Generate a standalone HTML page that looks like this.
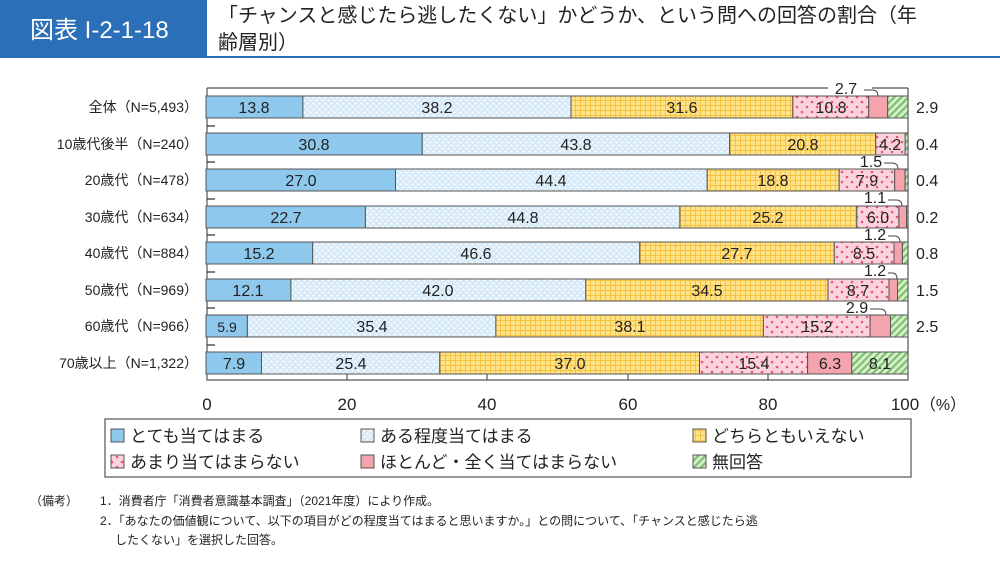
<!DOCTYPE html>
<html><head><meta charset="utf-8"><style>
body{margin:0;background:#fff;width:1000px;height:561px;overflow:hidden;font-family:"Liberation Sans","Noto Sans CJK JP",sans-serif;}
</style></head><body>
<svg width="1000" height="561" xmlns="http://www.w3.org/2000/svg" font-family="'Liberation Sans','Noto Sans CJK JP',sans-serif">
<defs>
<pattern id="pb" width="6" height="6" patternUnits="userSpaceOnUse"><rect width="6" height="6" fill="#d6eaf8"/><circle cx="1.5" cy="1.5" r="1.1" fill="#fff"/><circle cx="4.5" cy="4.5" r="1.1" fill="#fff"/></pattern>
<pattern id="py" width="5" height="5" patternUnits="userSpaceOnUse"><rect width="5" height="5" fill="#ffe38a"/><path d="M0 0.5H5M0.5 0V5" stroke="#f5c242" stroke-width="1"/></pattern>
<pattern id="pp" width="10" height="10" patternUnits="userSpaceOnUse"><rect width="10" height="10" fill="#fbd3dc"/><circle cx="2" cy="2" r="1.3" fill="#e8557a"/><circle cx="7" cy="7" r="1.3" fill="#e8557a"/></pattern>
<pattern id="pg" width="5" height="5" patternUnits="userSpaceOnUse" patternTransform="rotate(45)"><rect width="5" height="5" fill="#d9efcf"/><rect width="2.2" height="5" fill="#7cc06b"/></pattern>
</defs>
<rect x="0" y="0" width="207" height="56" fill="#2a6fb7"/>
<rect x="0" y="56" width="1000" height="2" fill="#2a6fb7"/>
<text x="30" y="38" font-size="24" fill="#fff">図表 I-2-1-18</text>
<text x="218" y="22" font-size="20" fill="#222">「チャンスと感じたら逃したくない」かどうか、という問への回答の割合（年</text>
<text x="218" y="49" font-size="20" fill="#222">齢層別）</text>

<g stroke="#555" stroke-width="1.2" fill="none">
<path d="M207 88V380H908V88"/>
<path d="M207 88H828M872 88H908"/>
<path d="M347 380v-6M487 380v-6M628 380v-6M768 380v-6"/>
<path d="M207 126h8M207 162h8M207 199h8M207 235h8M207 272h8M207 308h8M207 345h8" stroke="#333"/>
</g>

<g stroke="#555" stroke-width="1">
<rect x="206" y="96" width="96.9" height="22" fill="#8ec8ec"/><rect x="302.9" y="96" width="268.1" height="22" fill="url(#pb)"/><rect x="571" y="96" width="221.8" height="22" fill="url(#py)"/><rect x="792.9" y="96" width="75.8" height="22" fill="url(#pp)"/><rect x="868.7" y="96" width="19" height="22" fill="#f4a4ad"/><rect x="887.7" y="96" width="20.3" height="22" fill="url(#pg)"/>
<rect x="206" y="133" width="216.2" height="22" fill="#8ec8ec"/><rect x="422.2" y="133" width="307.5" height="22" fill="url(#pb)"/><rect x="729.7" y="133" width="146" height="22" fill="url(#py)"/><rect x="875.7" y="133" width="29.5" height="22" fill="url(#pp)"/><rect x="905.2" y="133" width="2.8" height="22" fill="url(#pg)"/>
<rect x="206" y="169" width="189.5" height="22" fill="#8ec8ec"/><rect x="395.5" y="169" width="311.7" height="22" fill="url(#pb)"/><rect x="707.2" y="169" width="132" height="22" fill="url(#py)"/><rect x="839.2" y="169" width="55.5" height="22" fill="url(#pp)"/><rect x="894.7" y="169" width="10.5" height="22" fill="#f4a4ad"/><rect x="905.2" y="169" width="2.8" height="22" fill="url(#pg)"/>
<rect x="206" y="206" width="159.4" height="22" fill="#8ec8ec"/><rect x="365.4" y="206" width="314.5" height="22" fill="url(#pb)"/><rect x="679.9" y="206" width="176.9" height="22" fill="url(#py)"/><rect x="856.8" y="206" width="42.1" height="22" fill="url(#pp)"/><rect x="898.9" y="206" width="7.7" height="22" fill="#f4a4ad"/><rect x="906.6" y="206" width="1.4" height="22" fill="url(#pg)"/>
<rect x="206" y="242" width="106.7" height="22" fill="#8ec8ec"/><rect x="312.7" y="242" width="327.1" height="22" fill="url(#pb)"/><rect x="639.8" y="242" width="194.5" height="22" fill="url(#py)"/><rect x="834.3" y="242" width="59.7" height="22" fill="url(#pp)"/><rect x="894" y="242" width="8.4" height="22" fill="#f4a4ad"/><rect x="902.4" y="242" width="5.6" height="22" fill="url(#pg)"/>
<rect x="206" y="279" width="84.9" height="22" fill="#8ec8ec"/><rect x="290.9" y="279" width="294.9" height="22" fill="url(#pb)"/><rect x="585.8" y="279" width="242.2" height="22" fill="url(#py)"/><rect x="828" y="279" width="61" height="22" fill="url(#pp)"/><rect x="889" y="279" width="8.5" height="22" fill="#f4a4ad"/><rect x="897.5" y="279" width="10.5" height="22" fill="url(#pg)"/>
<rect x="206" y="315" width="41.4" height="22" fill="#8ec8ec"/><rect x="247.4" y="315" width="248.5" height="22" fill="url(#pb)"/><rect x="495.9" y="315" width="267.5" height="22" fill="url(#py)"/><rect x="763.4" y="315" width="106.7" height="22" fill="url(#pp)"/><rect x="870.1" y="315" width="20.4" height="22" fill="#f4a4ad"/><rect x="890.5" y="315" width="17.5" height="22" fill="url(#pg)"/>
<rect x="206" y="352" width="55.5" height="22" fill="#8ec8ec"/><rect x="261.5" y="352" width="178.3" height="22" fill="url(#pb)"/><rect x="439.8" y="352" width="259.7" height="22" fill="url(#py)"/><rect x="699.5" y="352" width="108.1" height="22" fill="url(#pp)"/><rect x="807.6" y="352" width="44.2" height="22" fill="#f4a4ad"/><rect x="851.8" y="352" width="56.2" height="22" fill="url(#pg)"/>
</g>

<g font-family="'Liberation Sans Narrow','Liberation Sans',sans-serif" font-size="16" fill="#222" text-anchor="middle">
<text x="254" y="113">13.8</text><text x="437" y="113">38.2</text><text x="682" y="113">31.6</text><text x="831" y="113">10.8</text>
<text x="314" y="150">30.8</text><text x="576" y="150">43.8</text><text x="803" y="150">20.8</text><text x="890" y="150">4.2</text>
<text x="301" y="186">27.0</text><text x="551" y="186">44.4</text><text x="773" y="186">18.8</text><text x="867" y="186">7.9</text>
<text x="286" y="223">22.7</text><text x="523" y="223">44.8</text><text x="768" y="223">25.2</text><text x="878" y="223">6.0</text>
<text x="259" y="259">15.2</text><text x="476" y="259">46.6</text><text x="737" y="259">27.7</text><text x="864" y="259">8.5</text>
<text x="248" y="296">12.1</text><text x="438" y="296">42.0</text><text x="707" y="296">34.5</text><text x="858" y="296">8.7</text>
<text x="227" y="332" font-size="14">5.9</text><text x="372" y="332">35.4</text><text x="630" y="332">38.1</text><text x="817" y="332">15.2</text>
<text x="234" y="369">7.9</text><text x="351" y="369">25.4</text><text x="570" y="369">37.0</text><text x="754" y="369">15.4</text><text x="830" y="369">6.3</text><text x="880" y="369">8.1</text>
<text x="846" y="94">2.7</text><text x="871" y="167">1.5</text><text x="875" y="203">1.1</text><text x="875" y="240">1.2</text><text x="875" y="276">1.2</text><text x="857" y="313">2.9</text>
<g text-anchor="start"><text x="916" y="113">2.9</text><text x="916" y="150">0.4</text><text x="916" y="186">0.4</text><text x="916" y="223">0.2</text><text x="916" y="259">0.8</text><text x="916" y="296">1.5</text><text x="916" y="332">2.5</text></g>
<g font-size="17"><text x="207" y="410">0</text><text x="347" y="410">20</text><text x="487" y="410">40</text><text x="628" y="410">60</text><text x="768" y="410">80</text><text x="905" y="410">100</text></g>
<text x="943" y="410" font-size="16" font-family="'Liberation Sans','Noto Sans CJK JP',sans-serif">（%）</text>
</g>
<g fill="none" stroke="#444" stroke-width="1">
<path d="M864 90h8q6 0 6 6"/><path d="M884 163h8q6 0 6 6"/><path d="M888 200h8q6 0 6 6"/><path d="M888 236h6q6 0 6 6"/><path d="M888 273h4q5 0 5 6"/><path d="M870 309h10q6 0 6 6"/>
</g>

<g font-size="14" fill="#222" text-anchor="end">
<text x="198" y="112">全体（N=5,493）</text>
<text x="198" y="149">10歳代後半（N=240）</text>
<text x="198" y="185">20歳代（N=478）</text>
<text x="198" y="222">30歳代（N=634）</text>
<text x="198" y="258">40歳代（N=884）</text>
<text x="198" y="295">50歳代（N=969）</text>
<text x="198" y="331">60歳代（N=966）</text>
<text x="198" y="368">70歳以上（N=1,322）</text>
</g>

<rect x="105" y="419" width="806" height="58" fill="#fff" stroke="#555" stroke-width="1.2"/>
<g stroke="#555" stroke-width="1">
<rect x="111" y="429" width="13" height="13" fill="#8ec8ec"/><rect x="361" y="429" width="13" height="13" fill="url(#pb)"/><rect x="693" y="429" width="13" height="13" fill="url(#py)"/>
<rect x="111" y="455" width="13" height="13" fill="url(#pp)"/><rect x="361" y="455" width="13" height="13" fill="#f4a4ad"/><rect x="693" y="455" width="13" height="13" fill="url(#pg)"/>
</g>
<g font-size="17" fill="#222">
<text x="130" y="442">とても当てはまる</text><text x="380" y="442">ある程度当てはまる</text><text x="712" y="442">どちらともいえない</text>
<text x="130" y="468">あまり当てはまらない</text><text x="380" y="468">ほとんど・全く当てはまらない</text><text x="712" y="468">無回答</text>
</g>
<g font-size="12" fill="#222">
<text x="30" y="505">（備考）</text>
<text x="100" y="505">1．消費者庁「消費者意識基本調査」（2021年度）により作成。</text>
<text x="100" y="525">2．「あなたの価値観について、以下の項目がどの程度当てはまると思いますか。」との問について、「チャンスと感じたら逃</text>
<text x="115" y="544">したくない」を選択した回答。</text>
</g>
</svg>
</body></html>
